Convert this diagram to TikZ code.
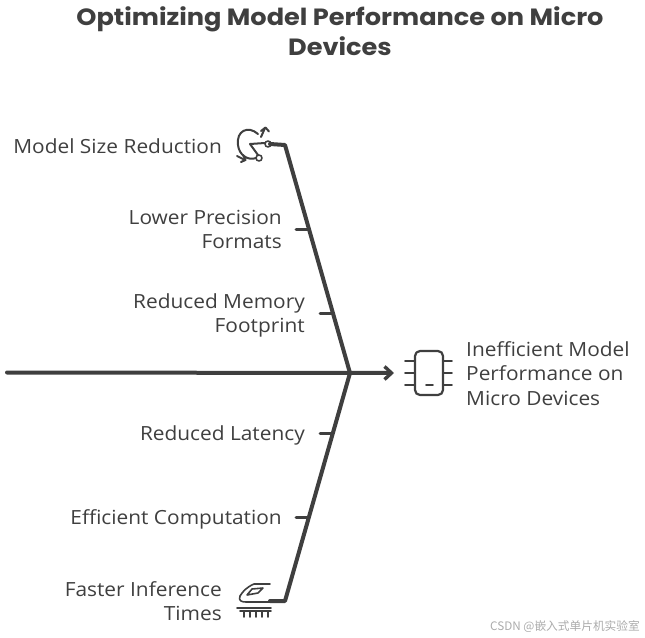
\documentclass[tikz,border=0pt]{standalone}
\usepackage{fontspec}
\setmainfont[FakeStretch=1.07]{Open Sans}
\newfontfamily\titlefont[FakeStretch=1.09]{Poppins}
\newfontfamily\cjkfont{Noto Sans CJK SC}
\usetikzlibrary{arrows.meta}
\definecolor{ink}{HTML}{3F3F3F}
\tikzset{
  x=1pt,y=-1pt,
  bone/.style={draw=ink,line width=4pt,line cap=round,line join=round},
  rib/.style={draw=ink,line width=3pt,line cap=round},
  icon/.style={draw=ink,line width=1.6pt,line cap=round,line join=round},
  lab/.style={text=ink,font=\fontsize{19.5}{24}\selectfont,inner sep=0pt,align=right,anchor=east},
  labl/.style={text=ink,font=\fontsize{19.5}{24.5}\selectfont,inner sep=0pt,align=left,anchor=west},
}
\begin{document}
\begin{tikzpicture}
\useasboundingbox (0,0) rectangle (645,637);
\node[text=ink,font=\titlefont\bfseries\fontsize{23.5}{29.5}\selectfont,align=center,inner sep=0pt] (title) at (340,31) {Optimizing Model Performance on Micro\\Devices};
% labels
\node[lab] (a) at (222,146) {Model Size Reduction};
\node[lab] (b) at (282,229.5) {Lower Precision\\Formats};
\node[lab] (c) at (305,315) {Reduced Memory\\Footprint};
\node[lab] (d) at (305,435) {Reduced Latency};
\node[lab] (e) at (282,519) {Efficient Computation};
\node[lab] (f) at (222,601) {Faster Inference\\Times};
\node[labl] (g) at (466,373.5) {Inefficient Model\\Performance on\\Micro Devices};
% skeleton
\coordinate (tail) at (7,372.5);
\coordinate (joint) at (350,373);
\coordinate (head) at (394,373);
\coordinate (top) at (285,145);
\coordinate (topend) at (270,144);
\coordinate (bot) at (285,601);
\coordinate (botend) at (270,601);
\draw[bone,-{Straight Barb[length=7pt,width=13pt,line width=3.4pt]}] (tail) -- (head);
\draw[bone] (topend) -- (top) -- (joint) -- (bot) -- (botend);
% ribs
\coordinate (r1a) at (296,229); \coordinate (r1b) at (308,229);
\coordinate (r2a) at (320,313); \coordinate (r2b) at (332,313);
\coordinate (r3a) at (320,433); \coordinate (r3b) at (331,433);
\coordinate (r4a) at (296,517); \coordinate (r4b) at (308,517);
\draw[rib] (r1a) -- (r1b);
\draw[rib] (r2a) -- (r2b);
\draw[rib] (r3a) -- (r3b);
\draw[rib] (r4a) -- (r4b);
% top icon: pie with handles
\draw[icon,line width=2pt] (265,143) -- (250,144) -- (258,155);
\draw[icon,line width=2pt] (258,134) .. controls (248,125) and (236,131) .. (238,145) .. controls (239,155) and (248,161) .. (256,158);
\draw[icon] (268,144) circle[radius=3];
\draw[icon] (259,158) circle[radius=3];
\draw[icon,line width=2pt] (261,137) -- (265,128);
\draw[icon,line width=2pt] (261,131) -- (265.5,127.5) -- (269,131.5);
\draw[icon,line width=2pt] (237,156) -- (245,160);
\draw[icon,line width=2pt] (241,162) -- (245.5,160) -- (243,155);
% chip icon
\draw[icon,line width=2.2pt,rounded corners=5pt] (415,351) rectangle (443,395);
\draw[icon] (405,361) -- (415,361);
\draw[icon] (405,373) -- (415,373);
\draw[icon] (405,385) -- (415,385);
\draw[icon] (443,361) -- (452,361);
\draw[icon] (443,373) -- (452,373);
\draw[icon] (443,385) -- (452,385);
\draw[icon] (426,385) -- (433,385);
% train icon
\draw[icon] (270,584) -- (254,584) .. controls (247,587) and (243,591) .. (240,596);
\draw[icon] (263,588) -- (252,589) -- (247,595) -- (258,593) -- cycle;
\draw[icon] (240,596) .. controls (238,601) and (242,602) .. (246,602) -- (272,602);
\draw[icon] (237,608) -- (271,608);
\foreach \tx in {244,250,256,262,268} \draw[icon] (\tx,611) -- (\tx,617);
\draw[icon] (240,611) -- (271,611);
% watermark
\node[text=black!33,font=\cjkfont\fontsize{11.7}{13}\selectfont,anchor=east,inner sep=0pt] (w) at (640,626.5) {CSDN @嵌入式单片机实验室};
\end{tikzpicture}
\end{document}
